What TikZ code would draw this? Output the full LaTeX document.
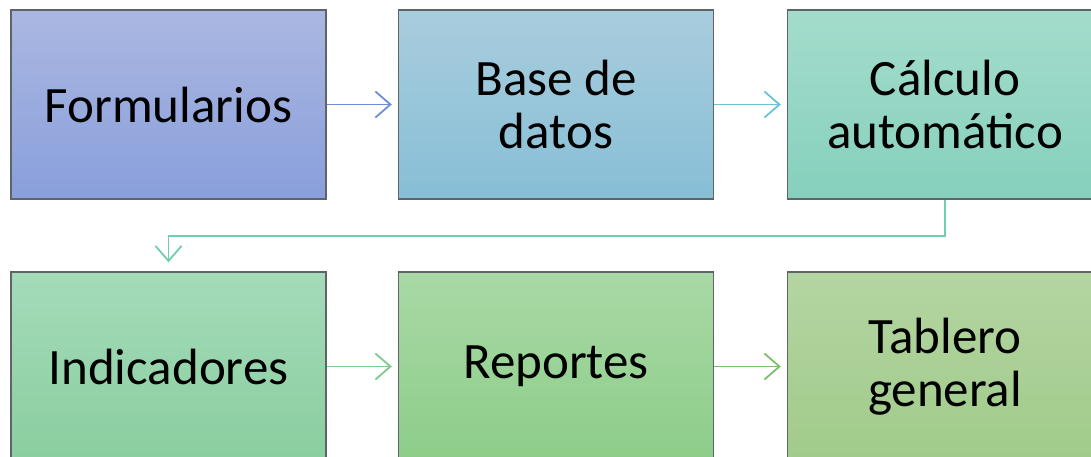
\documentclass[tikz,border=0pt]{standalone}
\usepackage{fontspec}
\setmainfont{Carlito}
\usetikzlibrary{arrows.meta}
\definecolor{bordc}{HTML}{5F6468}
\definecolor{fT}{HTML}{AAB7E1}\definecolor{fB}{HTML}{899FDB}
\definecolor{bT}{HTML}{A9CDDD}\definecolor{bB}{HTML}{87BED6}
\definecolor{cT}{HTML}{A4DCCC}\definecolor{cB}{HTML}{86D0BD}
\definecolor{iT}{HTML}{A4DBBA}\definecolor{iB}{HTML}{8ACE9E}
\definecolor{rT}{HTML}{A9D9A6}\definecolor{rB}{HTML}{8DCD88}
\definecolor{tT}{HTML}{B4D5A1}\definecolor{tB}{HTML}{A0CB8A}
\definecolor{a1}{HTML}{6A8EDA}
\definecolor{a2}{HTML}{6BC3D3}
\definecolor{a3}{HTML}{70CFAA}
\definecolor{a4}{HTML}{7ECB8E}
\definecolor{a5}{HTML}{7BC06B}
\tikzset{
  box/.style={draw=bordc, line width=1.4pt, minimum width=315pt, minimum height=189pt, inner sep=0pt, align=center, font=\fontsize{51}{53}\selectfont, text=black},
  conn/.style={line width=1.8pt, -{Straight Barb[length=15pt,width=26pt,line width=1.8pt]}, shorten >=6pt}
}
\begin{document}
\begin{tikzpicture}[x=1pt,y=-1pt]
\useasboundingbox (0,0) rectangle (1091,457);
\clip (0,0) rectangle (1091,457);
\node[box, top color=fT, bottom color=fB] (f) at (168.5,104.5) {Formularios};
\node[box, top color=bT, bottom color=bB] (b) at (556,104.5) {Base de\\datos};
\node[box, top color=cT, bottom color=cB] (c) at (945,104.5) {Cálculo\\automático};
\node[box, top color=iT, bottom color=iB] (i) at (168.5,366.5) {Indicadores};
\node[box, top color=rT, bottom color=rB] (r) at (556,366.5) {Reportes};
\node[box, top color=tT, bottom color=tB] (t) at (945,366.5) {Tablero\\general};
\draw[conn, color=a1] (f) -- (b);
\draw[conn, color=a2] (b) -- (c);
\draw[conn, color=a3, shorten >=9pt] (c.south) -- ++(0,36) -| (i.north);
\draw[conn, color=a4] (i) -- (r);
\draw[conn, color=a5] (r) -- (t);
\end{tikzpicture}
\end{document}
